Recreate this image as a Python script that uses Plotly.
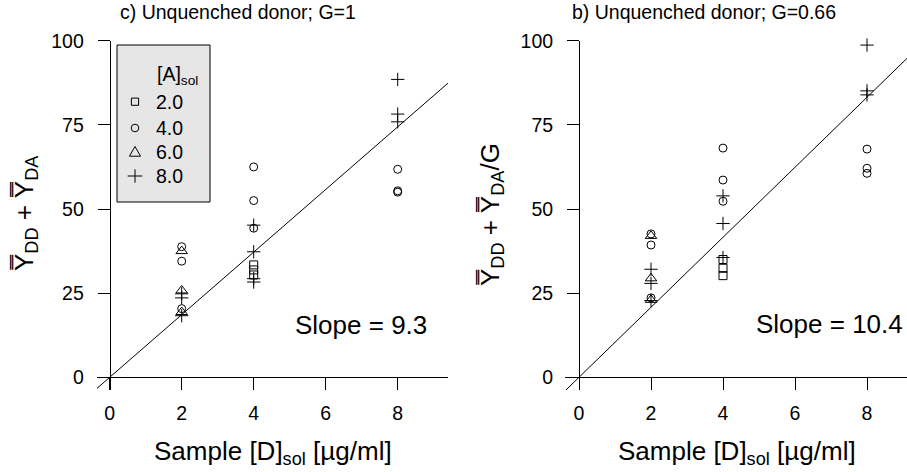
import plotly.graph_objects as go

# ---------------- data ----------------
conc_levels = ["2.0", "4.0", "6.0", "8.0"]

# left panel: G = 1
sq_L_x = [4, 4, 4]
sq_L_y = [33.4, 31.9, 30.4]
ci_L_x = [2, 2, 2, 4, 4, 4, 8, 8, 8]
ci_L_y = [38.8, 34.5, 20.4, 62.5, 52.5, 44.3, 61.8, 55.4, 55.0]
tr_L_x = [2, 2, 2]
tr_L_y = [37.5, 25.8, 19.4]
pl_L_x = [2, 2, 2, 4, 4, 4, 4, 8, 8, 8]
pl_L_y = [24.8, 23.6, 18.3, 45.2, 37.3, 29.3, 28.3, 88.5, 78.2, 75.9]
slope_L = 9.3

# right panel: G = 0.66
sq_R_x = [4, 4, 4]
sq_R_y = [35.0, 32.4, 30.2]
ci_R_x = [2, 2, 2, 4, 4, 4, 8, 8, 8]
ci_R_y = [42.6, 39.3, 23.6, 68.1, 58.6, 52.3, 67.8, 62.1, 60.6]
tr_R_x = [2, 2, 2]
tr_R_y = [42.0, 29.4, 23.0]
pl_R_x = [2, 2, 2, 4, 4, 4, 8, 8, 8]
pl_R_y = [32.1, 27.9, 22.8, 53.9, 45.7, 35.6, 98.7, 85.1, 83.9]
slope_R = 10.4

x_ticks = [0, 2, 4, 6, 8]
y_ticks = [0, 25, 50, 75, 100]
fit_x = [-1, 10]

# ---------------- figure ----------------
W, H = 907, 472
FONT = "Liberation Sans, Arial, Helvetica, sans-serif"

symbols = ["square-open", "circle-open", "triangle-up-open", "cross-thin-open"]
sizes = [8, 8, 10, 9.5]

fig = go.Figure()

panels = [
    ("x", "y", [(sq_L_x, sq_L_y), (ci_L_x, ci_L_y), (tr_L_x, tr_L_y), (pl_L_x, pl_L_y)], slope_L),
    ("x2", "y2", [(sq_R_x, sq_R_y), (ci_R_x, ci_R_y), (tr_R_x, tr_R_y), (pl_R_x, pl_R_y)], slope_R),
]

for xa, ya, series, slope in panels:
    fig.add_trace(go.Scatter(
        x=fit_x, y=[slope * v for v in fit_x], mode="lines",
        line=dict(color="black", width=1), xaxis=xa, yaxis=ya,
        showlegend=False, hoverinfo="skip"))
    for i, (sx, sy) in enumerate(series):
        fig.add_trace(go.Scatter(
            x=sx, y=sy, mode="markers", name=conc_levels[i],
            marker=dict(symbol=symbols[i], size=sizes[i], color="black",
                        line=dict(color="black", width=1)),
            xaxis=xa, yaxis=ya, showlegend=False, cliponaxis=False))

def px_x(p):
    return p / W

def px_y(p):
    return 1 - p / H

y_dom = [px_y(390), px_y(40.7)]
y_range = [(377.3 - 390) / 3.366, 100]
x_pos = px_y(377.3)

axis_common = dict(
    showline=True, linecolor="black", linewidth=1,
    ticks="outside", ticklen=12, tickwidth=1, tickcolor="black",
    showgrid=False, zeroline=False, automargin=False,
    tickfont=dict(family=FONT, size=19.5, color="black"),
    anchor="free",
)

fig.update_layout(
    width=W, height=H, autosize=False,
    margin=dict(l=0, r=0, t=0, b=0, pad=0, autoexpand=False),
    paper_bgcolor="white", plot_bgcolor="white",
    font=dict(family=FONT, color="black"),
    xaxis=dict(domain=[px_x(97), px_x(448)],
               range=[(97 - 109.7) / 36, (448 - 109.7) / 36],
               tickvals=x_ticks, position=x_pos, ticklabelstandoff=6, **axis_common),
    yaxis=dict(domain=y_dom, range=y_range, tickvals=y_ticks,
               position=px_x(109.7), ticklabelstandoff=10, **axis_common),
    xaxis2=dict(domain=[px_x(565), 1.0],
                range=[(565 - 579) / 36, (907 - 579) / 36],
                tickvals=x_ticks, position=x_pos, ticklabelstandoff=6, **axis_common),
    yaxis2=dict(domain=y_dom, range=y_range, tickvals=y_ticks,
                position=px_x(579), ticklabelstandoff=10, **axis_common),
    showlegend=False,
)

# ---------------- legend box (drawn) ----------------
shapes = [dict(type="rect", xref="paper", yref="paper",
               x0=px_x(117), x1=px_x(210), y0=px_y(202), y1=px_y(45),
               fillcolor="#e6e6e6", line=dict(color="black", width=1), layer="above")]
cx = 135
rows = [101.7, 128, 151.7, 176]
s = 3.6
shapes.append(dict(type="rect", xref="paper", yref="paper",
                   x0=px_x(cx - s), x1=px_x(cx + s), y0=px_y(rows[0] + s), y1=px_y(rows[0] - s),
                   line=dict(color="black", width=1), layer="above"))
r = 3.8
shapes.append(dict(type="circle", xref="paper", yref="paper",
                   x0=px_x(cx - r), x1=px_x(cx + r), y0=px_y(rows[1] + r), y1=px_y(rows[1] - r),
                   line=dict(color="black", width=1), layer="above"))
ty = rows[2]
shapes.append(dict(type="path", xref="paper", yref="paper",
                   path="M %f %f L %f %f L %f %f Z" % (px_x(cx - 5.6), px_y(ty + 4.5), px_x(cx + 5.6), px_y(ty + 4.5),
                                                     px_x(cx), px_y(ty - 5.2)),
                   line=dict(color="black", width=1), layer="above"))
py_ = rows[3]
shapes.append(dict(type="line", xref="paper", yref="paper",
                   x0=px_x(cx - 7.3), x1=px_x(cx + 7.3), y0=px_y(py_), y1=px_y(py_),
                   line=dict(color="black", width=1), layer="above"))
shapes.append(dict(type="line", xref="paper", yref="paper",
                   x0=px_x(cx), x1=px_x(cx), y0=px_y(py_ - 6.7), y1=px_y(py_ + 6.7),
                   line=dict(color="black", width=1), layer="above"))
fig.update_layout(shapes=shapes)

def add_text(text, x, y, size, xanchor="center", angle=0):
    fig.add_annotation(text=text, x=px_x(x), y=px_y(y), xref="paper", yref="paper",
                       xanchor=xanchor, yanchor="middle", showarrow=False, textangle=angle,
                       font=dict(family=FONT, size=size, color="black"))

add_text("[A]<sub>sol</sub>", 177, 75, 19.5)
for lab, ry in zip(conc_levels, rows):
    add_text(lab, 154, ry, 19.5, xanchor="left")

YY = "Y\u033F"
add_text("c) Unquenched donor; G=1", 238, 12, 19.5)
add_text("b) Unquenched donor; G=0.66", 704, 12, 19.5)
add_text("Sample [D]<sub>sol</sub> [\u00b5g/ml]", 273, 452, 26)
add_text("Sample [D]<sub>sol</sub> [\u00b5g/ml]", 737, 452, 26)
add_text(YY + "<sub>DD</sub> + " + YY + "<sub>DA</sub>", 25, 213, 26, angle=-90)
add_text(YY + "<sub>DD</sub> + " + YY + "<sub>DA</sub>/G", 491, 215, 26, angle=-90)
add_text("Slope = %.1f" % slope_L, 429, 325, 26, xanchor="right")
add_text("Slope = %.1f" % slope_R, 905, 324, 26, xanchor="right")

fig.write_html(
    "out.html",
    config={"displayModeBar": False},
    post_script=(
        "document.documentElement.style.margin='0';"
        "document.body.style.margin='0';document.body.style.padding='0';"
        "document.body.style.overflow='hidden';"
        "var d=document.getElementById('{plot_id}');"
        "d.style.position='fixed';d.style.left='0px';d.style.top='0px';"
    ),
)
